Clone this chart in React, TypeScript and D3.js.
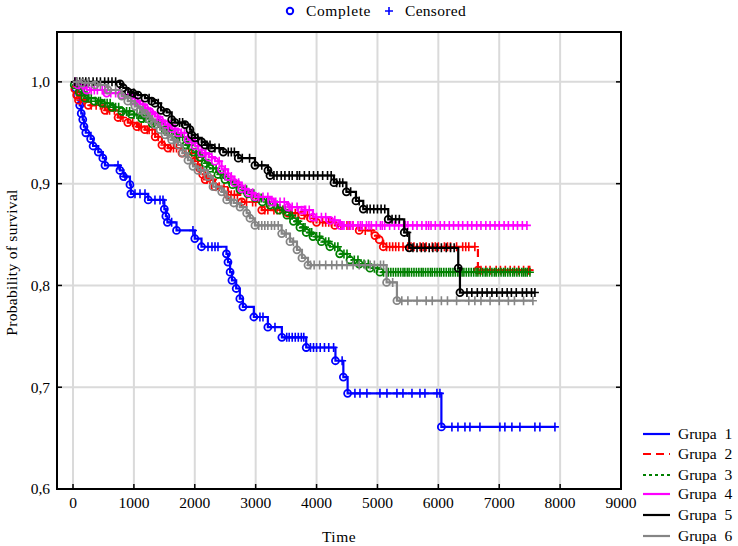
import React, { useRef, useEffect } from 'react';
import * as d3 from 'd3';

// Kaplan-Meier curves, six groups. events = [time, survival after the event]
const groupNames = ['Grupa  1', 'Grupa  2', 'Grupa  3', 'Grupa  4', 'Grupa  5', 'Grupa  6'];
const groupColors = ['#0000ff', '#ff0000', '#008000', '#ff00ff', '#000000', '#858585'];
const groupDash = [null, '8,5', '3,3', null, null, null];

const g1Events: [number, number][] = [
  [40, 0.994], [70, 0.987], [110, 0.977], [135, 0.969], [160, 0.963], [180, 0.956], [210, 0.95],
  [290, 0.944], [330, 0.937], [415, 0.931], [490, 0.925], [525, 0.918], [770, 0.913], [830, 0.907],
  [935, 0.899], [950, 0.89], [1235, 0.884], [1500, 0.875], [1525, 0.868], [1550, 0.862], [1700, 0.854],
  [2000, 0.846], [2110, 0.838], [2520, 0.831], [2545, 0.823], [2580, 0.813], [2610, 0.805], [2680, 0.797],
  [2740, 0.787], [2790, 0.779], [2970, 0.769], [3200, 0.759], [3430, 0.749], [3830, 0.739], [4310, 0.726],
  [4440, 0.71], [4510, 0.694], [6050, 0.661],
];
const g1Censored = [
  739, 854, 1018, 1100, 1182, 1346, 1429, 1478, 1620, 1970, 2217, 2282, 2332, 2381, 3070, 3120, 3317,
  3510, 3550, 3600, 3650, 3700, 3750, 3790, 3900, 3950, 4000, 4060, 4130, 4200, 4280, 4420, 4630, 4713,
  4827, 5041, 5156, 5320, 5419, 5567, 5698, 5780, 5977, 6026, 6223, 6322, 6437, 6519, 6683, 7011, 7093,
  7208, 7340, 7586, 7668, 7915,
];

const g2Events: [number, number][] = [
  [30, 0.993], [60, 0.987], [90, 0.982], [250, 0.977], [525, 0.972], [740, 0.965], [900, 0.96],
  [1050, 0.956], [1180, 0.953], [1350, 0.946], [1460, 0.938], [1560, 0.935], [1790, 0.93], [2000, 0.922],
  [2080, 0.915], [2130, 0.909], [2170, 0.904], [2330, 0.897], [2545, 0.889], [2770, 0.882], [3100, 0.874],
  [3530, 0.871], [3760, 0.869], [3900, 0.866], [4000, 0.862], [4300, 0.859], [4700, 0.854], [4960, 0.849],
  [5030, 0.845], [5095, 0.838], [6650, 0.815],
];
const g2Censored = [
  120, 180, 300, 380, 450, 560, 600, 680, 780, 820, 980, 1080, 1120, 1220, 1250, 1300, 1400, 1500, 1600,
  1650, 1700, 1850, 1900, 1950, 2050, 2200, 2250, 2300, 2400, 2480, 2600, 2650, 2700, 2850, 2950, 3000,
  3150, 3200, 3300, 3350, 3400, 3450, 3600, 3650, 3700, 3800, 3850, 3950, 4100, 4150, 4200, 4250, 4400,
  4500, 4550, 4600, 4800, 4900, 5150, 5200, 5250, 5300, 5350, 5420, 5500, 5550, 5600, 5700, 5750, 5800,
  5900, 5950, 6000, 6100, 6150, 6200, 6300, 6400, 6450, 6500, 6600, 6700, 6780, 6850, 6950, 7020, 7100,
  7180, 7250, 7320, 7400, 7480, 7500,
];

const g3Events: [number, number][] = [
  [20, 0.997], [100, 0.99], [197, 0.984], [350, 0.981], [471, 0.979], [640, 0.975], [800, 0.971],
  [960, 0.968], [1128, 0.964], [1300, 0.959], [1511, 0.953], [1680, 0.946], [1855, 0.938], [1970, 0.931],
  [2085, 0.926], [2170, 0.92], [2250, 0.915], [2380, 0.909], [2496, 0.904], [2620, 0.899], [2742, 0.894],
  [2870, 0.89], [2988, 0.886], [3110, 0.882], [3235, 0.879], [3380, 0.874], [3514, 0.869], [3620, 0.863],
  [3727, 0.857], [3830, 0.852], [3941, 0.848], [4080, 0.843], [4220, 0.838], [4380, 0.831], [4549, 0.825],
  [4700, 0.821], [4877, 0.817], [5041, 0.813],
];
const g3Censored = [
  50, 90, 140, 180, 230, 260, 300, 370, 420, 450, 520, 560, 610, 660, 700, 750, 820, 880, 930, 1000, 1050,
  1100, 1160, 1200, 1250, 1330, 1400, 1450, 1530, 1580, 1620, 1700, 1750, 1800, 1880, 1900, 1950, 2020,
  2060, 2120, 2200, 2230, 2300, 2350, 2420, 2470, 2550, 2600, 2680, 2720, 2800, 2850, 2930, 2970, 3050,
  3090, 3180, 3220, 3300, 3350, 3450, 3490, 3560, 3600, 3680, 3700, 3780, 3810, 3890, 3920, 4000, 4050,
  4150, 4200, 4300, 4350, 4450, 4500, 4620, 4680, 4780, 4850, 4950, 5000, 5100, 5150, 5180, 5220, 5260,
  5300, 5340, 5380, 5420, 5450, 5490, 5520, 5560, 5600, 5640, 5680, 5720, 5750, 5790, 5830, 5870, 5900,
  5940, 5980, 6020, 6050, 6090, 6130, 6170, 6200, 6240, 6280, 6320, 6350, 6390, 6420, 6460, 6500, 6540,
  6580, 6620, 6650, 6690, 6730, 6770, 6800, 6840, 6880, 6920, 6950, 6990, 7030, 7070, 7100, 7140, 7180,
  7220, 7250, 7290, 7330, 7370, 7400, 7430, 7460, 7504,
];

const g4Events: [number, number][] = [
  [80, 0.997], [225, 0.992], [553, 0.989], [800, 0.987], [1018, 0.981], [1100, 0.978], [1182, 0.974],
  [1270, 0.97], [1346, 0.966], [1430, 0.962], [1511, 0.958], [1620, 0.954], [1724, 0.95], [1888, 0.943],
  [2000, 0.937], [2113, 0.93], [2230, 0.926], [2332, 0.922], [2440, 0.914], [2545, 0.907], [2650, 0.901],
  [2770, 0.895], [2880, 0.891], [2988, 0.887], [3263, 0.882], [3530, 0.877], [3755, 0.874], [3941, 0.867],
  [4220, 0.864], [4384, 0.859],
];
const g4Censored = [
  40, 100, 150, 200, 300, 350, 400, 480, 520, 620, 700, 750, 900, 960, 1060, 1150, 1220, 1300, 1390,
  1470, 1560, 1600, 1680, 1780, 1830, 1950, 2060, 2180, 2280, 2400, 2500, 2600, 2720, 2830, 2950, 3050,
  3120, 3200, 3300, 3330, 3400, 3470, 3550, 3600, 3680, 3800, 3820, 3880, 4000, 4080, 4150, 4300, 4420,
  4450, 4520, 4560, 4600, 4680, 4720, 4750, 4820, 4860, 4900, 4980, 5050, 5080, 5120, 5200, 5280, 5350,
  5430, 5460, 5500, 5580, 5650, 5730, 5800, 5840, 5880, 5950, 6030, 6100, 6180, 6250, 6330, 6400, 6480,
  6550, 6630, 6700, 6780, 6850, 6930, 7000, 7080, 7150, 7230, 7300, 7380, 7455,
];

const g5Events: [number, number][] = [
  [772, 0.998], [826, 0.994], [908, 0.99], [985, 0.989], [1067, 0.987], [1182, 0.984], [1292, 0.981],
  [1346, 0.979], [1445, 0.972], [1539, 0.97], [1621, 0.963], [1675, 0.96], [1839, 0.958], [1921, 0.953],
  [1949, 0.948], [2003, 0.945], [2113, 0.941], [2167, 0.938], [2277, 0.935], [2468, 0.931], [2714, 0.925],
  [2988, 0.918], [3202, 0.913], [3235, 0.908], [4286, 0.901], [4490, 0.892], [4647, 0.883], [4767, 0.875],
  [5177, 0.865], [5440, 0.852], [5522, 0.837], [6327, 0.817], [6355, 0.793],
];
const g5Censored = [
  30, 60, 110, 160, 210, 260, 330, 390, 450, 520, 580, 640, 700, 1000, 1250, 1400, 1750, 1800, 2050, 2200,
  2250, 2330, 2400, 2550, 2600, 2650, 2780, 2900, 3100, 3300, 3350, 3420, 3480, 3550, 3600, 3680, 3720,
  3800, 3880, 3950, 4020, 4100, 4180, 4240, 4330, 4380, 4430, 4560, 4700, 4830, 4880, 4940, 5000, 5060,
  5120, 5240, 5300, 5360, 5490, 5583, 5650, 5720, 5780, 5850, 5910, 5980, 6050, 6130, 6200, 6260, 6470,
  6550, 6640, 6720, 6800, 6880, 6960, 7050, 7130, 7200, 7280, 7380, 7450, 7530, 7586,
];

const g6Events: [number, number][] = [
  [150, 0.999], [361, 0.997], [575, 0.992], [800, 0.986], [900, 0.981], [1018, 0.976], [1100, 0.972],
  [1182, 0.969], [1260, 0.963], [1346, 0.958], [1430, 0.953], [1511, 0.948], [1620, 0.943], [1724, 0.938],
  [1800, 0.93], [1888, 0.923], [1970, 0.917], [2052, 0.913], [2217, 0.907], [2299, 0.897], [2442, 0.892],
  [2524, 0.884], [2640, 0.881], [2742, 0.877], [2852, 0.871], [2906, 0.866], [2988, 0.859], [3427, 0.851],
  [3563, 0.843], [3678, 0.835], [3760, 0.827], [3859, 0.82], [5150, 0.803], [5320, 0.785],
];
const g6Censored = [
  60, 250, 450, 700, 950, 1150, 1300, 1550, 1650, 1850, 2100, 2150, 2350, 2480, 2600, 2700, 3050, 3100,
  3150, 3200, 3260, 3310, 3370, 3500, 3620, 3900, 3960, 4050, 4150, 4250, 4330, 4420, 4500, 4600, 4700,
  4800, 4880, 4950, 5050, 5100, 5250, 5400, 5500, 5650, 5800, 5900, 6050, 6150, 6300, 6500, 6600, 6700,
  6850, 7000, 7150, 7250, 7400, 7553,
];

const groupEvents = [g1Events, g2Events, g3Events, g4Events, g5Events, g6Events];
const groupCensored = [g1Censored, g2Censored, g3Censored, g4Censored, g5Censored, g6Censored];

const xTicks = [0, 1000, 2000, 3000, 4000, 5000, 6000, 7000, 8000, 9000];
const yTicks = [0.6, 0.7, 0.8, 0.9, 1.0];

const FONT = '"Liberation Serif", "Times New Roman", serif';
const FS = 15.5;

function survivalAt(events: [number, number][], t: number) {
  let s = 1;
  for (const [et, es] of events) {
    if (et <= t) s = es;
    else break;
  }
  return s;
}

const App = () => {
  const ref = useRef<SVGSVGElement>(null);

  useEffect(() => {
    const svg = d3.select(ref.current);
    svg.selectAll('*').remove();

    const left = 57, right = 621, top = 32, bottom = 489;
    const x = d3.scaleLinear().domain([-263, 9000]).range([left, right]);
    const y = d3.scaleLinear().domain([0.6, 1.049]).range([bottom, top]);

    // grid
    const grid = svg.append('g');
    xTicks.filter(t => t < 9000).forEach(t => {
      grid.append('line').attr('x1', x(t)).attr('x2', x(t)).attr('y1', top).attr('y2', bottom)
        .attr('stroke', '#dadada').attr('stroke-width', 2);
    });
    yTicks.filter(t => t > 0.6).forEach(t => {
      grid.append('line').attr('x1', left).attr('x2', right).attr('y1', y(t)).attr('y2', y(t))
        .attr('stroke', '#dadada').attr('stroke-width', 2);
    });

    // curves
    const line = d3.line<[number, number]>()
      .x(d => x(d[0]))
      .y(d => y(d[1]))
      .curve(d3.curveStepAfter);

    groupEvents.forEach((events, i) => {
      const cens = groupCensored[i];
      const color = groupColors[i];
      const end = Math.max(events[events.length - 1][0], cens[cens.length - 1]);
      const pts: [number, number][] = [[0, 1], ...events, [end, events[events.length - 1][1]]];
      const g = svg.append('g');
      g.append('path')
        .datum(pts)
        .attr('fill', 'none')
        .attr('stroke', color)
        .attr('stroke-width', 2.2)
        .attr('stroke-dasharray', groupDash[i])
        .attr('d', line);

      cens.forEach(t => {
        const cx = x(t), cy = y(survivalAt(events, t));
        g.append('path')
          .attr('d', `M${cx - 4},${cy}H${cx + 4}M${cx},${cy - 4.5}V${cy + 4.5}`)
          .attr('stroke', color).attr('stroke-width', 1.6).attr('fill', 'none');
      });
      events.forEach(([t, s]) => {
        g.append('circle')
          .attr('cx', x(t)).attr('cy', y(s)).attr('r', 3.5)
          .attr('fill', 'none').attr('stroke', color).attr('stroke-width', 1.8);
      });
    });

    // frame
    svg.append('rect')
      .attr('x', left).attr('y', top).attr('width', right - left).attr('height', bottom - top)
      .attr('fill', 'none').attr('stroke', '#000').attr('stroke-width', 2);

    // ticks
    const fmt = d3.format('.1f');
    yTicks.forEach(t => {
      svg.append('line').attr('x1', left).attr('x2', left + 5).attr('y1', y(t)).attr('y2', y(t))
        .attr('stroke', '#000').attr('stroke-width', 1.5);
      svg.append('line').attr('x1', right - 5).attr('x2', right).attr('y1', y(t)).attr('y2', y(t))
        .attr('stroke', '#000').attr('stroke-width', 1.5);
      svg.append('text').attr('x', 50).attr('y', y(t)).attr('dy', '0.35em')
        .attr('text-anchor', 'end').attr('font-family', FONT).attr('font-size', FS)
        .text(fmt(t).replace('.', ','));
    });
    xTicks.forEach(t => {
      svg.append('line').attr('x1', x(t)).attr('x2', x(t)).attr('y1', bottom).attr('y2', bottom - 5)
        .attr('stroke', '#000').attr('stroke-width', 1.5);
      svg.append('text').attr('x', x(t)).attr('y', 503).attr('dy', '0.35em')
        .attr('text-anchor', 'middle').attr('font-family', FONT).attr('font-size', FS)
        .text(String(t));
    });

    // axis titles
    svg.append('text').attr('x', (left + right) / 2).attr('y', 537).attr('dy', '0.35em')
      .attr('text-anchor', 'middle').attr('font-family', FONT).attr('font-size', FS)
      .attr('letter-spacing', 0.5).text('Time');
    svg.append('text').attr('transform', `translate(12,${(top + bottom) / 2 + 2}) rotate(-90)`)
      .attr('dy', '0.35em').attr('text-anchor', 'middle').attr('font-family', FONT).attr('font-size', FS)
      .attr('letter-spacing', 0.3).text('Probability of survival');

    // top legend
    svg.append('circle').attr('cx', 290).attr('cy', 11).attr('r', 3.2)
      .attr('fill', 'none').attr('stroke', '#0000ff').attr('stroke-width', 2);
    svg.append('text').attr('x', 306).attr('y', 11).attr('dy', '0.35em')
      .attr('font-family', FONT).attr('font-size', FS).attr('letter-spacing', 0.6).text('Complete');
    svg.append('path').attr('d', 'M385,11H393M389,7V15').attr('stroke', '#0000ff').attr('stroke-width', 1.6);
    svg.append('text').attr('x', 405).attr('y', 11).attr('dy', '0.35em')
      .attr('font-family', FONT).attr('font-size', FS).attr('letter-spacing', 0.3).text('Censored');

    // group legend
    const legendY = [434, 454, 475, 494, 515, 536];
    groupNames.forEach((name, i) => {
      svg.append('line').attr('x1', 643).attr('x2', 670).attr('y1', legendY[i]).attr('y2', legendY[i])
        .attr('stroke', groupColors[i]).attr('stroke-width', 2.2)
        .attr('stroke-dasharray', groupDash[i]);
      svg.append('text').attr('x', 678).attr('y', legendY[i]).attr('dy', '0.35em')
        .attr('font-family', FONT).attr('font-size', FS).style('white-space', 'pre').text(name);
    });
  }, []);

  return (
    <svg ref={ref} width={738} height={546}
      style={{ position: 'absolute', left: 0, top: 0, display: 'block', background: '#fff' }} />
  );
};

export default App;
